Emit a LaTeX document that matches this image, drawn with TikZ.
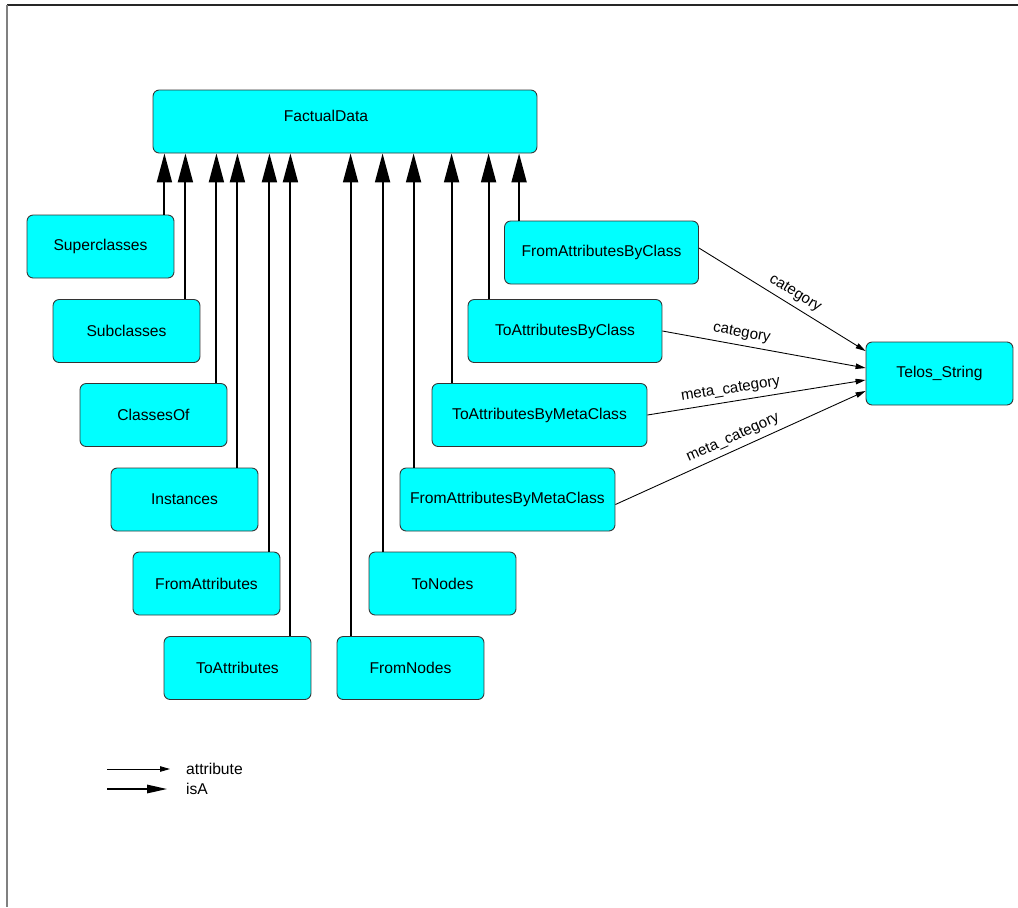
\documentclass[tikz,border=0pt]{standalone}
\usepackage{fontspec}
\setmainfont{Liberation Sans}
\usetikzlibrary{arrows.meta, positioning, calc}
\definecolor{cBox}{RGB}{0,255,255}
\tikzset{
	cls/.style={rectangle, rounded corners=3.5pt, draw=black!80, line width=0.5pt, fill=cBox, minimum width=2.94cm, minimum height=1.26cm, align=center, font=\fontsize{8.9}{10.7}\selectfont},
	isa/.style={-{Triangle[length=0.58cm, width=0.3cm]}, line width=1.1pt},
	attr/.style={-{Triangle[length=0.2cm, width=0.11cm]}, line width=0.5pt},
	lbl/.style={font=\fontsize{8.6}{10}\selectfont, sloped, above, inner sep=2.8pt},
}

\begin{document}
\begin{tikzpicture}[x=0.02cm, y=-0.02cm,
		legtxt/.style={anchor=west, font=\fontsize{8.9}{10.7}\selectfont}]
	\useasboundingbox (0,0) rectangle (1018,907);
	\draw[black!85, line width=0.6pt] (7,5) -- (1018,5);
	\draw[gray, line width=0.8pt] (7,5) -- (7,907);
	% classes
	\node[cls, minimum width=7.68cm] (fd) at (345,121.5) {\raisebox{0.22cm}{FactualData}\hspace*{0.76cm}};
	\node[cls] (sup) at (100.5,246.5) {Superclasses};
	\node[cls] (sub) at (126.5,331) {Subclasses};
	\node[cls] (cof) at (153.5,415) {ClassesOf};
	\node[cls] (inst) at (184.5,499.5) {Instances};
	\node[cls] (fa) at (206.5,583.5) {FromAttributes};
	\node[cls] (ta) at (237.5,668) {ToAttributes};
	\node[cls] (fn) at (410.5,668) {FromNodes};
	\node[cls] (tn) at (442.5,583.5) {ToNodes};
	\node[cls, minimum width=4.3cm] (fabm) at (507.5,499.5) {FromAttributesByMetaClass};
	\node[cls, minimum width=4.3cm] (tabm) at (539.5,415) {ToAttributesByMetaClass};
	\node[cls, minimum width=3.88cm] (tabc) at (565,331) {ToAttributesByClass};
	\node[cls, minimum width=3.88cm] (fabc) at (601.5,252.5) {FromAttributesByClass};
	\node[cls] (ts) at (939.5,373.5) {Telos\_String};
	% isA links
	\foreach \n/\dx in {sup/-0.2, sub/-0.3, cof/-0.22, inst/-0.42, fa/-0.22, ta/-0.42} {
		\path ([xshift=\dx cm]\n.north east) coordinate (s);
		\draw[isa] (s) -- (s |- fd.south);
	}
	\foreach \n/\dx in {fn/0.28, tn/0.28, fabm/0.28, tabm/0.4, tabc/0.42, fabc/0.3} {
		\path ([xshift=\dx cm]\n.north west) coordinate (s);
		\draw[isa] (s) -- (s |- fd.south);
	}
	% attribute links
	\draw[attr] ([yshift=0.09cm]fabc.east) -- ([yshift=0.45cm]ts.west) node[lbl, pos=0.54] {category};
	\draw[attr] (tabc.east) -- ([yshift=0.11cm]ts.west) node[lbl, pos=0.38] {category};
	\draw[attr] (tabm.east) -- ([yshift=-0.13cm]ts.west) node[lbl, pos=0.39] {meta\_category};
	\draw[attr] ([yshift=-0.1cm]fabm.east) -- ([yshift=-0.35cm]ts.west) node[lbl, pos=0.49] {meta\_category};
	% legend
	\coordinate (la) at (107,769);
	\coordinate (li) at (107,789);
	\node[legtxt] (latt) at (180,769) {attribute};
	\node[legtxt] (lisa) at (180,789) {isA};
	\draw[attr] (la) -- ([xshift=-0.2cm]latt.west);
	\draw[-{Triangle[length=0.4cm, width=0.17cm]}, line width=0.8pt] (li) -- ([xshift=-0.26cm]lisa.west);
\end{tikzpicture}
\end{document}
